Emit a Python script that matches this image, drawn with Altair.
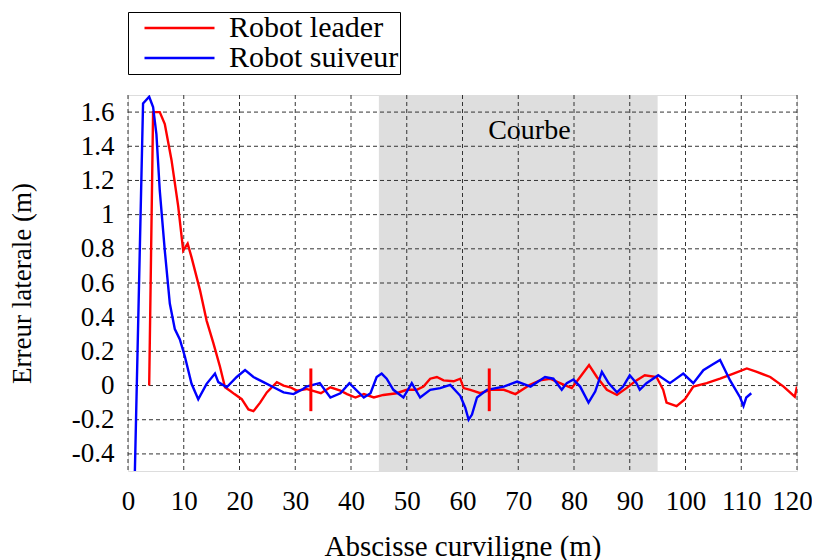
import altair as alt
import pandas as pd

# ---- data ----
leader_x = [3.8, 4.5, 5.7, 6.6, 7.8, 9.0, 9.9, 10.7, 11.4, 12.9, 14.1, 15.3, 16.5, 17.4, 18.3,
            19.1, 20.4, 21.6, 22.5, 23.7, 24.9, 26.7, 27.9, 29.1, 30.3, 32.0, 34.6, 36.3, 38.1,
            39.3, 40.8, 42.3, 44.1, 45.8, 48.2, 50.0, 51.8, 53.0, 54.2, 55.4, 56.6, 58.4, 59.6,
            60.2, 61.4, 63.2, 65.0, 67.4, 69.5, 72.1, 73.9, 75.7, 77.5, 79.6, 81.1, 82.7, 84.1,
            85.9, 87.7, 89.4, 91.2, 92.7, 94.8, 96.0, 96.6, 98.4, 99.9, 101.4, 103.8, 106.2,
            108.6, 111.0, 112.8, 115.2, 117.6, 119.6, 120.0]
leader_y = [0.0, 1.60, 1.60, 1.53, 1.32, 1.05, 0.79, 0.83, 0.75, 0.56, 0.38, 0.25, 0.11, -0.01, -0.03,
            -0.05, -0.08, -0.14, -0.15, -0.10, -0.04, 0.02, 0.00, -0.01, -0.03, -0.02, -0.045, -0.01, -0.03,
            -0.05, -0.07, -0.05, -0.07, -0.055, -0.045, -0.025, -0.025, -0.006, 0.04, 0.05, 0.03, 0.025, 0.04,
            -0.015, -0.025, -0.045, -0.025, -0.025, -0.05, 0.004, 0.03, 0.04, 0.014, -0.015, 0.05, 0.12, 0.05,
            -0.025, -0.055, -0.015, 0.03, 0.06, 0.05, -0.025, -0.10, -0.12, -0.08, -0.006, 0.014, 0.04,
            0.07, 0.10, 0.08, 0.05, -0.006, -0.065, -0.006]

suiveur_x = [1.2, 2.7, 3.8, 4.5, 5.1, 5.7, 6.6, 7.5, 8.4, 9.3, 10.2, 11.4, 12.6, 14.1, 15.6, 16.2,
             17.7, 19.5, 21.0, 22.5, 24.3, 26.1, 27.9, 29.7, 31.4, 32.0, 34.4, 36.3, 38.1, 39.7,
             42.3, 43.5, 44.6, 45.5, 46.4, 47.6, 49.4, 50.9, 52.4, 54.2, 56.0, 57.8, 59.6, 60.5,
             61.1, 61.7, 62.6, 64.4, 67.4, 69.8, 72.2, 74.8, 76.3, 77.8, 78.7, 79.9, 81.1, 82.6,
             83.8, 85.0, 86.2, 87.7, 88.8, 90.0, 91.2, 91.8, 93.0, 95.1, 97.2, 99.6, 101.4, 103.2,
             104.7, 106.2, 108.0, 109.8, 110.4, 110.9, 111.8]
suiveur_y = [-0.55, 1.65, 1.69, 1.63, 1.47, 1.14, 0.79, 0.48, 0.33, 0.27, 0.17, 0.01, -0.08, 0.01, 0.07, 0.02,
             -0.01, 0.05, 0.09, 0.05, 0.02, -0.01, -0.04, -0.05, -0.02, -0.006, 0.014, -0.07, -0.045, 0.014,
             -0.07, -0.045, 0.05, 0.07, 0.04, -0.025, -0.07, 0.014, -0.07, -0.025, -0.015, 0.004, -0.06, -0.13,
             -0.20, -0.17, -0.07, -0.025, -0.006, 0.023, -0.006, 0.05, 0.04, -0.025, 0.014, 0.035, -0.006, -0.10,
             -0.035, 0.08, 0.014, -0.04, -0.006, 0.06, 0.014, -0.025, 0.014, 0.06, 0.014, 0.07, 0.014, 0.09,
             0.12, 0.15, 0.03, -0.07, -0.12, -0.07, -0.045]

series_names = ["Robot leader", "Robot suiveur"]
series_colors = ["#ff0000", "#0000ff"]

marker_x = [32.8, 64.8]
marker_y0 = [-0.15, -0.15]
marker_y1 = [0.10, 0.10]

zone_start, zone_end = [45], [95]
zone_label = ["Courbe"]
zone_label_x = [72]
zone_label_y = [1.49]

x_ticks = [0, 10, 20, 30, 40, 50, 60, 70, 80, 90, 100, 110, 120]
y_ticks = [-0.4, -0.2, 0, 0.2, 0.4, 0.6, 0.8, 1, 1.2, 1.4, 1.6]
x_domain = [0, 120]
y_domain = [-0.5, 1.7]

FONT = "Liberation Serif"

# ---- tables ----
lines_df = pd.concat([
    pd.DataFrame({"x": leader_x, "y": leader_y, "serie": series_names[0], "i": range(len(leader_x))}),
    pd.DataFrame({"x": suiveur_x, "y": suiveur_y, "serie": series_names[1], "i": range(len(suiveur_x))}),
])
zone_df = pd.DataFrame({"x": zone_start, "x2": zone_end, "y": [y_domain[0]], "y2": [y_domain[1]]})
label_df = pd.DataFrame({"x": zone_label_x, "y": zone_label_y, "t": zone_label})
marker_df = pd.DataFrame({"x": marker_x, "y": marker_y0, "y2": marker_y1})
xgrid_df = pd.DataFrame({"x": x_ticks})
ygrid_df = pd.DataFrame({"y": y_ticks})

xscale = alt.Scale(domain=x_domain, nice=False, zero=False)
yscale = alt.Scale(domain=y_domain, nice=False, zero=False)

xaxis = alt.Axis(values=x_ticks, title="Abscisse curviligne (m)", grid=False, ticks=False,
                 domain=False, labelFont=FONT, labelFontSize=27, labelColor="black",
                 labelPadding=17, labelOverlap=False, labelFlush=False,
                 labelOffset={"condition": {"test": "datum.value == 120", "value": -5}, "value": 0},
                 titleFont=FONT, titleFontSize=29, titleFontWeight="normal",
                 titleColor="black", titlePadding=18)
yaxis = alt.Axis(values=y_ticks, title="Erreur laterale (m)", grid=False, ticks=False,
                 domain=False, labelFont=FONT, labelFontSize=27, labelColor="black",
                 labelPadding=14, labelExpr="toString(datum.value)",
                 labelOverlap=False, labelFlush=False,
                 titleFont=FONT, titleFontSize=27, titleFontWeight="normal",
                 titleColor="black", titlePadding=35)

X = lambda: alt.X("x:Q", scale=xscale, axis=xaxis)
Y = lambda: alt.Y("y:Q", scale=yscale, axis=yaxis)

zone = alt.Chart(zone_df).mark_rect(color="#dedede").encode(x=X(), x2="x2", y=Y(), y2="y2")

xgrid = alt.Chart(xgrid_df).mark_rule(color="#333333", strokeWidth=1, strokeDash=[4, 3]).encode(x=X())
ygrid = alt.Chart(ygrid_df).mark_rule(color="#333333", strokeWidth=1, strokeDash=[4, 3]).encode(y=Y())

label = alt.Chart(label_df).mark_text(font=FONT, fontSize=28, color="black").encode(
    x=X(), y=Y(), text="t:N")

lines = alt.Chart(lines_df).mark_line(strokeWidth=2.4, clip=True).encode(
    x=X(), y=Y(),
    order="i:Q",
    color=alt.Color("serie:N", scale=alt.Scale(domain=series_names, range=series_colors),
                    legend=alt.Legend(orient="none", legendX=0, legendY=-83, title=None,
                                      symbolType="stroke", symbolSize=4900, symbolStrokeWidth=2.5,
                                      clipHeight=30, rowPadding=0, padding=1, symbolOffset=14,
                                      labelOffset=13, labelFont=FONT, labelFontSize=30,
                                      labelColor="black", strokeColor="black", fillColor="white",
                                      labelLimit=400)))

markers = alt.Chart(marker_df).mark_rule(color="#ff0000", strokeWidth=3).encode(
    x=X(), y=Y(), y2="y2")

chart = alt.layer(zone, xgrid, ygrid, label, lines, markers).properties(
    width=669, height=376,
    autosize=alt.AutoSizeParams(type="none"),
    padding={"left": 120, "top": 87, "right": 15, "bottom": 89},
).configure_view(stroke="black", strokeWidth=1.5).configure(background="white")

chart.save("out.html", embed_options={"renderer": "svg", "actions": False})
